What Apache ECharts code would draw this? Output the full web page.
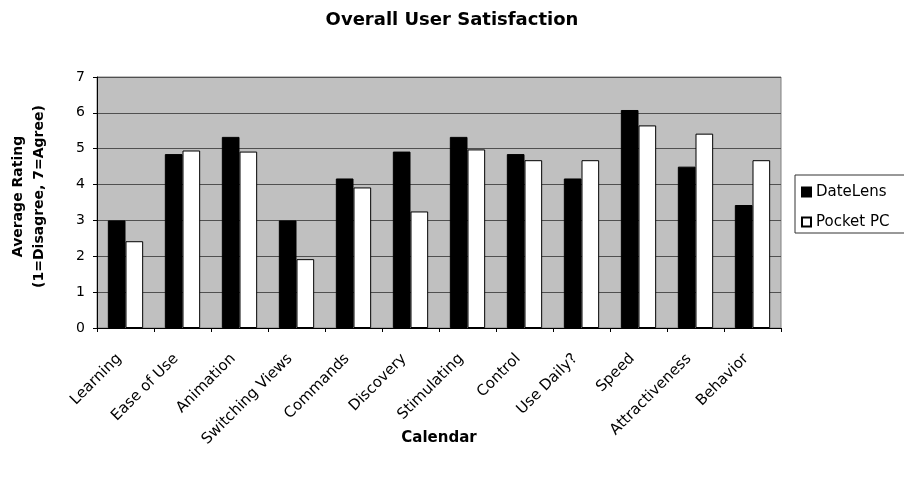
<!DOCTYPE html>
<html>
<head>
<meta charset="utf-8">
<script src="https://cdn.jsdelivr.net/npm/echarts@6/dist/echarts.min.js"></script>
<style>
  html, body { margin: 0; padding: 0; background: #fff; }
  #chart { width: 904px; height: 479px; }
</style>
</head>
<body>
<div id="chart"></div>
<script>
// values
const categories = ['Learning', 'Ease of Use', 'Animation', 'Switching Views', 'Commands', 'Discovery',
  'Stimulating', 'Control', 'Use Daily?', 'Speed', 'Attractiveness', 'Behavior'];
const dateLens = [3.0, 4.85, 5.33, 3.0, 4.17, 4.92, 5.33, 4.85, 4.17, 6.08, 4.5, 3.43];
const pocketPC = [2.42, 4.95, 4.92, 1.92, 3.92, 3.25, 4.98, 4.68, 4.68, 5.65, 5.42, 4.68];
const yTicks = [0, 1, 2, 3, 4, 5, 6, 7];

const font = '"DejaVu Sans", Verdana, sans-serif';
const chart = echarts.init(document.getElementById('chart'));

chart.setOption({
  animation: false,
  textStyle: { fontFamily: font },
  title: {
    text: 'Overall User Satisfaction',
    left: 'center', top: 6,
    textStyle: { fontSize: 18, fontWeight: 'bold', color: '#000', fontFamily: font }
  },
  legend: {
    orient: 'vertical',
    left: 795, top: 175,
    padding: [8, 30, 2, 6],
    itemGap: 12,
    itemWidth: 9, itemHeight: 9,
    borderColor: '#333', borderWidth: 1,
    textStyle: { fontSize: 15, lineHeight: 18, color: '#000', fontFamily: font },
    data: [
      { name: 'DateLens', icon: 'rect' },
      { name: 'Pocket PC', icon: 'rect' }
    ]
  },
  grid: {
    left: 97, right: 123, top: 77, bottom: 151,
    outerBoundsMode: 'none',
    containLabel: false,
    show: true, backgroundColor: '#c0c0c0', borderColor: '#808080', borderWidth: 1
  },
  xAxis: {
    type: 'category',
    data: categories,
    name: 'Calendar',
    nameLocation: 'middle',
    nameGap: 103,
    nameMoveOverlap: false,
    nameTextStyle: { fontSize: 15, fontWeight: 'bold', color: '#000' },
    axisLine: { lineStyle: { color: '#000' } },
    axisTick: { show: true, length: 4, lineStyle: { color: '#000' } },
    axisLabel: { rotate: 45, fontSize: 15, color: '#000', margin: 22, interval: 0, padding: [0, 9, 0, 0] }
  },
  yAxis: {
    type: 'value',
    min: 0, max: 7, interval: 1,
    name: 'Average Rating\n(1=Disagree, 7=Agree)',
    nameLocation: 'middle',
    nameRotate: 90,
    nameGap: 47,
    nameTextStyle: { fontSize: 14, fontWeight: 'bold', color: '#000', lineHeight: 21, padding: [0, 0, 0, 12] },
    axisLine: { show: true, lineStyle: { color: '#000' } },
    axisTick: { show: true, length: 4, lineStyle: { color: '#000' } },
    axisLabel: {
      fontSize: 14, color: '#000', margin: 12,
      formatter: v => yTicks.includes(v) ? String(v) : ''
    },
    splitLine: { lineStyle: { color: '#505050', width: 1 } }
  },
  series: [
    {
      name: 'DateLens', type: 'bar', data: dateLens,
      barGap: '0%', barCategoryGap: '38%',
      itemStyle: { color: '#000', borderColor: '#000', borderWidth: 1 }
    },
    {
      name: 'Pocket PC', type: 'bar', data: pocketPC,
      barGap: '0%', barCategoryGap: '38%',
      itemStyle: { color: '#fff', borderColor: '#000', borderWidth: 1 }
    }
  ]
});
</script>
</body>
</html>
